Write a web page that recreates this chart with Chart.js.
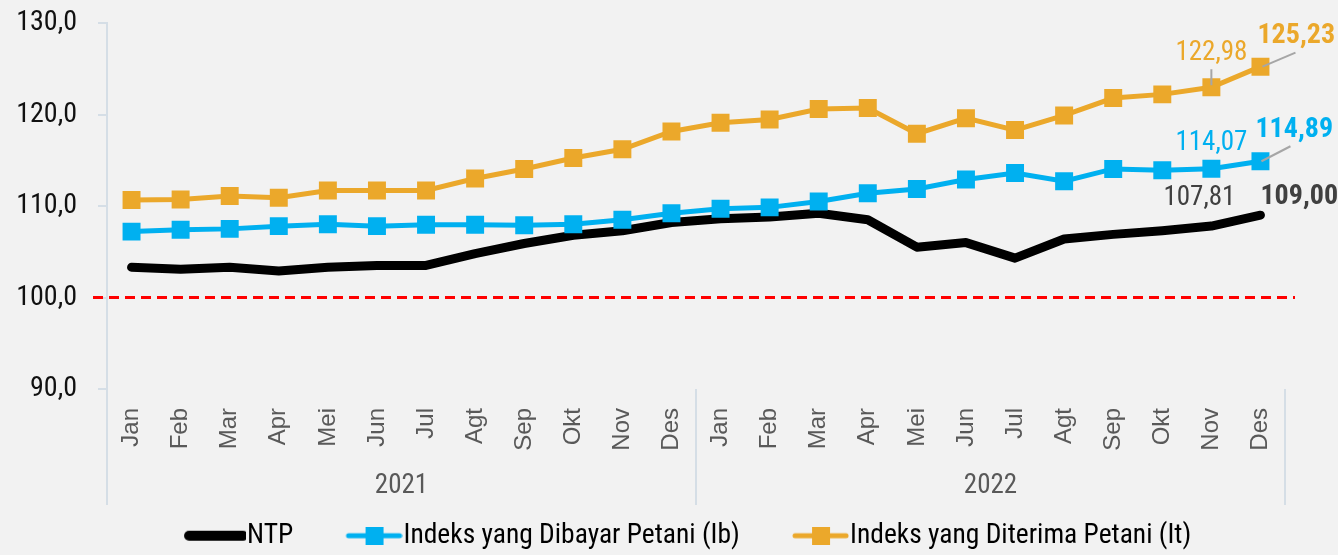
<!DOCTYPE html>
<html>
<head>
<meta charset="utf-8">
<script src="https://cdn.jsdelivr.net/npm/chart.js@4.4.0/dist/chart.umd.min.js"></script>
<style>
    html, body { margin: 0; padding: 0; background: #F2F2F2; }
    #wrap { width: 1338px; height: 555px; }
</style>
</head>
<body>
<div id="wrap"><canvas id="myChart" width="1338" height="555"></canvas></div>
<script>
// data
var months = ['Jan', 'Feb', 'Mar', 'Apr', 'Mei', 'Jun', 'Jul', 'Agt', 'Sep', 'Okt', 'Nov', 'Des'];
var years = ['2021', '2022'];
var categories = months.concat(months);

var ntp = [103.3, 103.1, 103.3, 102.9, 103.3, 103.5, 103.5, 104.8, 105.9, 106.8, 107.3, 108.2,
    108.6, 108.8, 109.2, 108.5, 105.5, 106.0, 104.3, 106.4, 106.9, 107.3, 107.81, 109.00];
var ib = [107.2, 107.4, 107.5, 107.8, 108.0, 107.8, 107.95, 107.95, 107.9, 108.0, 108.5, 109.2,
    109.7, 109.85, 110.5, 111.4, 111.85, 112.9, 113.6, 112.7, 114.05, 113.9, 114.07, 114.89];
var it = [110.65, 110.7, 111.1, 110.9, 111.7, 111.7, 111.7, 113.0, 114.05, 115.25, 116.2, 118.15,
    119.1, 119.45, 120.6, 120.7, 117.9, 119.6, 118.3, 119.9, 121.8, 122.2, 122.98, 125.23];
var seriesNames = ['NTP', 'Indeks yang Dibayar Petani (Ib)', 'Indeks yang Diterima Petani (It)'];
var yTicks = [90, 100, 110, 120, 130];
var refValue = 100;

var black = '#000000';
var blue = '#00B0F0';
var orange = '#EBA82B';
var axisColor = '#D5DEE6';
var narrow = "'Roboto Condensed', 'Liberation Sans Narrow', sans-serif";

function fmt(v, d) {
    return v.toFixed(d).replace('.', ',');
}

// legend symbols (line + square), drawn on the right part of a wider canvas
function legendIcon(color, lineW, square) {
    var c = document.createElement('canvas');
    c.width = 112;
    c.height = 18;
    var g = c.getContext('2d');
    g.strokeStyle = color;
    g.lineCap = 'round';
    g.lineWidth = lineW;
    var x0 = square ? 58 : 55;
    g.beginPath();
    g.moveTo(x0, 9);
    g.lineTo(109, 9);
    g.stroke();
    if (square) {
        g.fillStyle = color;
        g.fillRect(75, 0, 18, 18);
    }
    return c;
}

// value labels near the last points
var labelSpecs = [
    { ds: 2, i: 22, dx: 0, dy: -27, align: 'center', bold: false, color: orange, leader: [0, -2, 0, -18] },
    { ds: 2, i: 23, dx: -3, dy: -24, align: 'left', bold: true, color: orange, leader: [2, 0, 35, -14] },
    { ds: 1, i: 22, dx: 0, dy: -19, align: 'center', bold: false, color: blue },
    { ds: 1, i: 23, dx: -5, dy: -24, align: 'left', bold: true, color: blue, leader: [1, 0, 30, -15] },
    { ds: 0, i: 22, dx: -12, dy: -21, align: 'center', bold: false, color: '#404040' },
    { ds: 0, i: 23, dx: 0, dy: -11, align: 'left', bold: true, color: '#404040' }
];

var bgPlugin = {
    id: 'bg',
    beforeDraw: function (chart) {
        var ctx = chart.ctx;
        ctx.save();
        ctx.fillStyle = '#F2F2F2';
        ctx.fillRect(0, 0, chart.width, chart.height);
        ctx.restore();
    }
};

var refLinePlugin = {
    id: 'refLine',
    beforeDatasetsDraw: function (chart) {
        var ctx = chart.ctx;
        var y = chart.scales.y.getPixelForValue(refValue);
        ctx.save();
        ctx.strokeStyle = '#FF0000';
        ctx.lineWidth = 3;
        ctx.setLineDash([10, 6]);
        ctx.beginPath();
        ctx.moveTo(chart.chartArea.left - 14, y);
        ctx.lineTo(chart.chartArea.right + 10, y);
        ctx.stroke();
        ctx.restore();
    }
};

var separatorPlugin = {
    id: 'separators',
    afterDraw: function (chart) {
        var ctx = chart.ctx;
        var x = chart.scales.x;
        var mid = (x.getPixelForValue(11) + x.getPixelForValue(12)) / 2;
        var xs = [x.left, mid, x.right];
        ctx.save();
        ctx.strokeStyle = axisColor;
        ctx.lineWidth = 2;
        for (var i in xs) {
            ctx.beginPath();
            ctx.moveTo(xs[i], chart.chartArea.bottom);
            ctx.lineTo(xs[i], chart.scales.x2.bottom - 7);
            ctx.stroke();
        }
        ctx.restore();
    }
};

var valueLabelPlugin = {
    id: 'valueLabels',
    afterDatasetsDraw: function (chart) {
        var ctx = chart.ctx;
        ctx.save();
        for (var k in labelSpecs) {
            var s = labelSpecs[k];
            var pt = chart.getDatasetMeta(s.ds).data[s.i];
            var v = chart.data.datasets[s.ds].data[s.i];
            if (s.leader) {
                ctx.strokeStyle = '#A6A6A6';
                ctx.lineWidth = 2;
                ctx.beginPath();
                ctx.moveTo(pt.x + s.leader[0], pt.y + s.leader[1]);
                ctx.lineTo(pt.x + s.leader[2], pt.y + s.leader[3]);
                ctx.stroke();
            }
            ctx.font = (s.bold ? 'bold 28px ' : '27px ') + narrow;
            ctx.fillStyle = s.color;
            ctx.textAlign = s.align;
            ctx.textBaseline = 'alphabetic';
            ctx.fillText(fmt(v, 2), pt.x + s.dx, pt.y + s.dy);
        }
        ctx.restore();
    }
};

var ctx = document.getElementById('myChart');
var myChart = new Chart(ctx, {
    type: 'line',
    data: {
        labels: categories,
        datasets: [{
            label: seriesNames[0],
            data: ntp,
            borderColor: black,
            backgroundColor: black,
            borderWidth: 9,
            borderCapStyle: 'round',
            borderJoinStyle: 'round',
            pointRadius: 0,
            order: 2
        }, {
            label: seriesNames[1],
            data: ib,
            borderColor: blue,
            backgroundColor: blue,
            borderWidth: 5,
            pointStyle: 'rect',
            pointRadius: 12.7,
            pointBorderWidth: 0,
            pointBackgroundColor: blue,
            order: 1
        }, {
            label: seriesNames[2],
            data: it,
            borderColor: orange,
            backgroundColor: orange,
            borderWidth: 5,
            pointStyle: 'rect',
            pointRadius: 12.7,
            pointBorderWidth: 0,
            pointBackgroundColor: orange,
            order: 0
        }]
    },
    options: {
        responsive: false,
        animation: false,
        layout: {
            padding: { top: 23, left: 0, right: 0, bottom: 0 }
        },
        plugins: {
            tooltip: { enabled: false },
            legend: {
                position: 'bottom',
                maxHeight: 43,
                labels: {
                    usePointStyle: true,
                    pointStyleWidth: 86.5,
                    padding: 10,
                    color: '#000000',
                    font: { family: narrow, size: 27.5 },
                    sort: function (a, b) { return a.datasetIndex - b.datasetIndex; },
                    generateLabels: function (chart) {
                        var icons = [legendIcon(black, 10, false), legendIcon(blue, 5, true), legendIcon(orange, 5, true)];
                        return chart.data.datasets.map(function (d, i) {
                            return {
                                text: d.label,
                                pointStyle: icons[i],
                                fillStyle: d.borderColor,
                                strokeStyle: d.borderColor,
                                lineWidth: 0,
                                fontColor: '#000000',
                                datasetIndex: i
                            };
                        });
                    }
                }
            }
        },
        scales: {
            x: {
                position: 'bottom',
                offset: true,
                grid: { display: false, drawTicks: false },
                border: { display: false },
                ticks: {
                    autoSkip: false,
                    minRotation: 90,
                    maxRotation: 90,
                    padding: 19,
                    color: '#595959',
                    font: { family: "'Liberation Sans', Arial, sans-serif", size: 24 }
                },
                afterFit: function (s) { s.height = 75; }
            },
            x2: {
                type: 'category',
                position: 'bottom',
                labels: years,
                offset: true,
                grid: { display: false, drawTicks: false },
                border: { display: false },
                ticks: {
                    autoSkip: false,
                    maxRotation: 0,
                    padding: 6,
                    color: '#595959',
                    font: { family: narrow, size: 27 }
                },
                afterFit: function (s) { s.height = 48; }
            },
            y: {
                min: 90,
                max: 130,
                afterBuildTicks: function (s) {
                    s.ticks = yTicks.map(function (v) { return { value: v }; });
                },
                grid: {
                    drawOnChartArea: false,
                    drawTicks: true,
                    tickLength: 9,
                    color: axisColor,
                    lineWidth: 2
                },
                border: { display: true, color: axisColor, width: 2 },
                ticks: {
                    padding: 21,
                    color: '#111111',
                    font: { family: narrow, size: 28 },
                    callback: function (v) { return fmt(v, 1); }
                },
                afterFit: function (s) {
                    s.width = 107;
                    s.paddingTop = 0;
                    s.paddingBottom = 0;
                }
            },
            yR: {
                position: 'right',
                display: true,
                grid: { display: false },
                border: { display: false },
                ticks: { display: false },
                afterFit: function (s) { s.width = 53; }
            }
        }
    },
    plugins: [bgPlugin, refLinePlugin, separatorPlugin, valueLabelPlugin]
});
</script>
</body>
</html>
